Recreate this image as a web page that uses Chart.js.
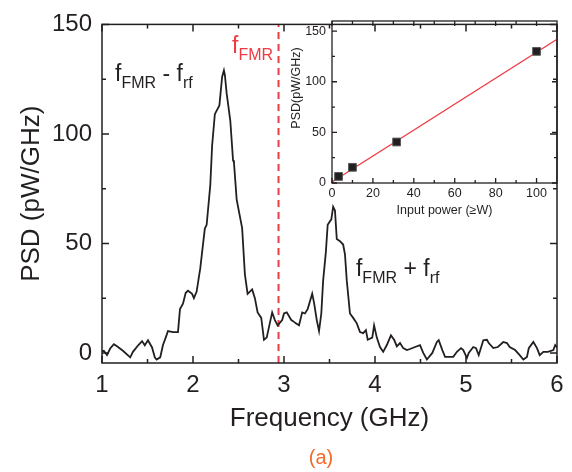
<!DOCTYPE html>
<html>
<head>
<meta charset="utf-8">
<script src="https://cdn.jsdelivr.net/npm/chart.js@4/dist/chart.umd.min.js"></script>
<style>
  html, body { margin: 0; padding: 0; background: #fff; }
  #wrap { position: relative; width: 572px; height: 472px; }
  #wrap canvas { position: absolute; left: 0; top: 0; }
</style>
</head>
<body>
<div id="wrap">
  <canvas id="main" width="572" height="472"></canvas>
  <canvas id="inset" width="572" height="472"></canvas>
</div>
<script>
// main spectrum
const freqGHz = [
  0.99, 1.02, 1.055, 1.09, 1.13, 1.165, 1.23, 1.31, 1.34, 1.40, 1.44, 1.47, 1.505, 1.55, 1.58, 1.60,
  1.64, 1.67, 1.70, 1.725, 1.78, 1.835, 1.857, 1.89, 1.92, 1.945, 1.99, 2.01, 2.04, 2.08, 2.13, 2.15,
  2.19, 2.21, 2.24, 2.29, 2.32, 2.34, 2.35, 2.37, 2.41, 2.44, 2.45, 2.48, 2.54, 2.57, 2.60, 2.65,
  2.68, 2.71, 2.75, 2.78, 2.81, 2.87, 2.90, 2.93, 2.98, 3.00, 3.03, 3.08, 3.10, 3.13, 3.165, 3.20,
  3.23, 3.26, 3.31, 3.33, 3.36, 3.385, 3.41, 3.43, 3.46, 3.48, 3.52, 3.54, 3.56, 3.58, 3.615, 3.65,
  3.67, 3.69, 3.725, 3.76, 3.80, 3.835, 3.87, 3.90, 3.92, 3.97, 3.99, 4.02, 4.055, 4.09, 4.13, 4.175,
  4.21, 4.24, 4.275, 4.31, 4.35, 4.385, 4.44, 4.495, 4.53, 4.57, 4.63, 4.68, 4.70, 4.74, 4.77, 4.80,
  4.86, 4.90, 4.945, 4.97, 5.01, 5.03, 5.08, 5.11, 5.14, 5.19, 5.23, 5.25, 5.30, 5.35, 5.41, 5.45,
  5.48, 5.54, 5.59, 5.63, 5.67, 5.69, 5.74, 5.78, 5.81, 5.85, 5.90, 5.96, 5.98, 6.0
];
const psd = [
  0.5, 1, -1, 2, 4, 3, 1, -2, 0.5, 3.6, 5.4, 3.5, 5.8, 2.5, -2, -3,
  -2, 3.6, 7, 10, 9.5, 9.5, 20, 22.5, 27.5, 28.4, 27, 25, 28, 38.7, 56.8, 58.5,
  76.6, 94.6, 109, 113, 126, 129, 127, 118.5, 106, 88, 87, 70, 57, 36, 27, 29,
  25, 18.5, 16, 6, 7, 18.5, 15, 12.6, 15, 18, 18.5, 15, 14.5, 13.5, 12.6, 18.5,
  18, 20, 27, 23, 15, 10, 18, 33, 46, 58.5, 61, 66.7, 65, 52, 51, 49.5,
  45, 33, 18, 16, 13.5, 9.5, 9, 10.4, 6, 7, 12.6, 7, 2.7, 0.5, 3.6, 8,
  6, 3, 4.5, 2.2, 1.3, 1.8, 2.7, 3.6, 0, -3, 0, 5, 5.8, 1.3, -1.8, -1.8,
  -1.8, 0.5, 2.2, 1.3, -2.3, 0, 2.7, 2.2, -1, 5.8, 6, 4.5, 2.2, 2.7, 5, 4.5,
  2.7, 1.3, -1, -3, -1.8, 2.2, 5, 2.2, -1, 0.5, 0.5, 1.3, 3.6, 2.5
];
const fmrGHz = 2.94;
const freqTicks = [1, 2, 3, 4, 5, 6];
const psdTicks = [0, 50, 100, 150];

// inset: peak PSD vs input power
const inputPower = [3.2, 10, 31.6, 100];
const peakPsd = [6.5, 15.5, 40.5, 130];
const fitPower = [0, 110];
const fitPsd = [1, 142];
const powerTicks = [0, 20, 40, 60, 80, 100];
const insetPsdTicks = [0, 50, 100, 150];

const INK = '#231f20';
const RED = '#ee3a43';
const ORANGE = '#f26a2a';
const FAMILY = '"Liberation Sans", Arial, Helvetica, sans-serif';

function halfway(ticks) {
  const out = [];
  for (let i = 0; i < ticks.length - 1; i++) {
    out.push((ticks[i] + ticks[i + 1]) / 2);
  }
  return out;
}

// frame round the plot area with inward ticks on all four sides
const frameTicks = {
  id: 'frameTicks',
  afterDatasetsDraw(chart, args, opts) {
    const ctx = chart.ctx;
    const a = chart.chartArea;
    const x = chart.scales.x;
    const y = chart.scales.y;
    ctx.save();
    ctx.strokeStyle = INK;
    ctx.lineWidth = opts.lineWidth;
    ctx.lineCap = 'butt';

    function xt(v, len) {
      const px = x.getPixelForValue(v);
      ctx.beginPath();
      ctx.moveTo(px, a.bottom); ctx.lineTo(px, a.bottom - len);
      ctx.moveTo(px, a.top); ctx.lineTo(px, a.top + len);
      ctx.stroke();
    }
    function yt(v, len) {
      const py = y.getPixelForValue(v);
      ctx.beginPath();
      ctx.moveTo(a.left, py); ctx.lineTo(a.left + len, py);
      ctx.moveTo(a.right, py); ctx.lineTo(a.right - len, py);
      ctx.stroke();
    }
    opts.xMajor.forEach(v => xt(v, opts.major));
    halfway(opts.xMajor).forEach(v => xt(v, opts.minor));
    opts.yMajor.forEach(v => yt(v, opts.major));
    halfway(opts.yMajor).forEach(v => yt(v, opts.minor));

    ctx.strokeRect(a.left, a.top, a.right - a.left, a.bottom - a.top);
    ctx.restore();
  }
};

function drawRich(ctx, px, py, parts, color) {
  ctx.fillStyle = color;
  ctx.textBaseline = 'alphabetic';
  ctx.textAlign = 'left';
  let cx = px;
  parts.forEach(p => {
    ctx.font = (p.sub ? 16 : 23) + 'px ' + FAMILY;
    ctx.fillText(p.t, cx, py + (p.sub ? 7 : 0));
    cx += ctx.measureText(p.t).width;
  });
}

const mainLabels = {
  id: 'mainLabels',
  afterDraw(chart) {
    const ctx = chart.ctx;
    const x = chart.scales.x;
    const y = chart.scales.y;
    ctx.save();
    drawRich(ctx, x.getPixelForValue(1.143), y.getPixelForValue(124.1), [
      {t: 'f'}, {t: 'FMR', sub: true}, {t: ' - f'}, {t: 'rf', sub: true}
    ], INK);
    drawRich(ctx, x.getPixelForValue(2.429), y.getPixelForValue(136.8), [
      {t: 'f'}, {t: 'FMR', sub: true}
    ], RED);
    drawRich(ctx, x.getPixelForValue(3.791), y.getPixelForValue(35.1), [
      {t: 'f'}, {t: 'FMR', sub: true}, {t: ' + f'}, {t: 'rf', sub: true}
    ], INK);
    ctx.fillStyle = ORANGE;
    ctx.font = '20px ' + FAMILY;
    ctx.textAlign = 'center';
    ctx.textBaseline = 'middle';
    ctx.fillText('(a)', 321, 458);
    ctx.restore();
  }
};

const insetLabels = {
  id: 'insetLabels',
  afterDraw(chart) {
    const ctx = chart.ctx;
    const a = chart.chartArea;
    ctx.save();
    ctx.translate(a.left - 35, a.top + 67);
    ctx.rotate(-Math.PI / 2);
    ctx.fillStyle = INK;
    ctx.font = '12.5px ' + FAMILY;
    ctx.textAlign = 'center';
    ctx.textBaseline = 'middle';
    ctx.fillText('PSD(pW/GHz)', 0, 0);
    ctx.restore();
  }
};

const spectrum = freqGHz.map((f, i) => ({x: f, y: psd[i]}));

new Chart(document.getElementById('main'), {
  type: 'scatter',
  data: {
    datasets: [
      {
        data: spectrum,
        showLine: true,
        borderColor: INK,
        borderWidth: 1.8,
        pointRadius: 0,
        tension: 0
      },
      {
        data: [{x: fmrGHz, y: -4.6}, {x: fmrGHz, y: 150}],
        showLine: true,
        borderColor: RED,
        borderWidth: 2,
        borderDash: [7, 5],
        pointRadius: 0
      }
    ]
  },
  options: {
    responsive: false,
    animation: false,
    devicePixelRatio: 1,
    layout: {padding: {left: 0, right: 15, top: 21, bottom: 0}},
    plugins: {
      legend: {display: false},
      tooltip: {enabled: false},
      frameTicks: {lineWidth: 1.5, major: 7, minor: 4, xMajor: freqTicks, yMajor: psdTicks}
    },
    scales: {
      x: {
        type: 'linear',
        min: 1,
        max: 6,
        afterBuildTicks: s => { s.ticks = freqTicks.map(v => ({value: v})); },
        afterFit: s => { s.height = 109; },
        grid: {display: false, drawTicks: false},
        border: {display: false},
        ticks: {font: {size: 24, family: FAMILY}, color: INK, padding: 8},
        title: {
          display: true,
          text: 'Frequency (GHz)',
          color: INK,
          font: {size: 26, family: FAMILY},
          padding: {bottom: 38}
        }
      },
      y: {
        min: -4.6,
        max: 150,
        afterBuildTicks: s => { s.ticks = psdTicks.map(v => ({value: v})); },
        afterFit: s => { s.width = 102; },
        grid: {display: false, drawTicks: false},
        border: {display: false},
        ticks: {font: {size: 24, family: FAMILY}, color: INK, padding: 10},
        title: {
          display: true,
          text: 'PSD (pW/GHz)',
          color: INK,
          font: {size: 26, family: FAMILY},
          padding: {top: 16}
        }
      }
    }
  },
  plugins: [frameTicks, mainLabels]
});

new Chart(document.getElementById('inset'), {
  type: 'scatter',
  data: {
    datasets: [
      {
        data: inputPower.map((p, i) => ({x: p, y: peakPsd[i]})),
        pointStyle: 'rect',
        pointRadius: 5.5,
        backgroundColor: INK,
        borderColor: '#5a5a5a',
        borderWidth: 1
      },
      {
        data: fitPower.map((p, i) => ({x: p, y: fitPsd[i]})),
        showLine: true,
        borderColor: RED,
        borderWidth: 1.2,
        pointRadius: 0
      }
    ]
  },
  options: {
    responsive: false,
    animation: false,
    devicePixelRatio: 1,
    layout: {padding: {left: 280, right: 15, top: 21, bottom: 249}},
    plugins: {
      legend: {display: false},
      tooltip: {enabled: false},
      frameTicks: {lineWidth: 1.3, major: 5, minor: 3, xMajor: powerTicks, yMajor: insetPsdTicks}
    },
    scales: {
      x: {
        type: 'linear',
        min: 0,
        max: 110,
        afterBuildTicks: s => { s.ticks = powerTicks.map(v => ({value: v})); },
        afterFit: s => { s.height = 40; },
        grid: {display: false, drawTicks: false},
        border: {display: false},
        ticks: {font: {size: 12.5, family: FAMILY}, color: INK, padding: 3},
        title: {
          display: true,
          text: 'Input power (\u2265W)',
          color: INK,
          font: {size: 12.5, family: FAMILY},
          padding: {bottom: 5}
        }
      },
      y: {
        min: 0,
        max: 160,
        afterBuildTicks: s => { s.ticks = insetPsdTicks.map(v => ({value: v})); },
        afterFit: s => { s.width = 52; },
        grid: {display: false, drawTicks: false},
        border: {display: false},
        ticks: {font: {size: 12.5, family: FAMILY}, color: INK, padding: 6}
      }
    }
  },
  plugins: [frameTicks, insetLabels]
});
</script>
</body>
</html>
